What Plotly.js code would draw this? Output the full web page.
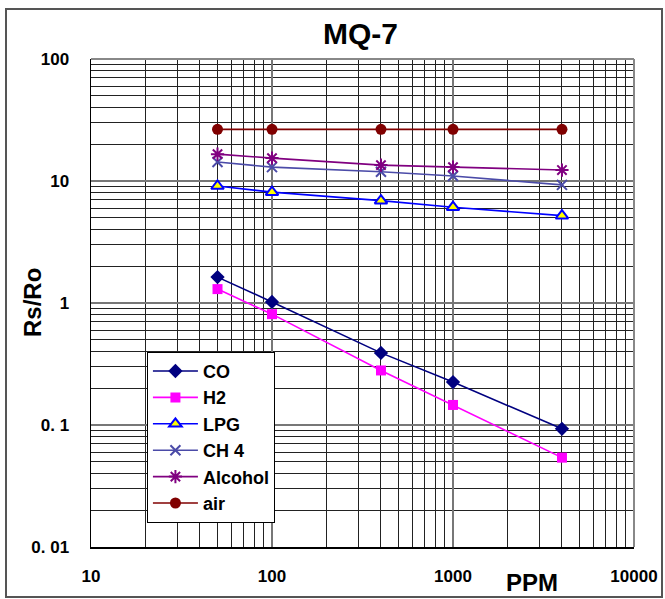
<!DOCTYPE html>
<html><head><meta charset="utf-8">
<script src="https://cdn.plot.ly/plotly-3.0.1.min.js"></script>
<style>html,body{margin:0;padding:0;background:#fff;}#chart{width:665px;height:599px;}</style>
</head><body><div id="chart"></div>
<script>
const ppm = [50, 100, 400, 1000, 4000];
const co = [1.63, 1.02, 0.39, 0.225, 0.093];
const h2 = [1.3, 0.81, 0.28, 0.146, 0.054];
const lpg = [9.1, 8.1, 6.9, 6.1, 5.2];
const ch4 = [14.3, 13.0, 11.9, 11.0, 9.3];
const alcohol = [16.6, 15.4, 13.5, 13.0, 12.3];
const air = [26.5, 26.5, 26.5, 26.5, 26.5];
const seriesNames = ['CO', 'H2', 'LPG', 'CH 4', 'Alcohol', 'air'];
const xTickVals = [10, 100, 1000, 10000];
const xTickText = ['10', '100', '1000', '10000'];
const yTickVals = [0.01, 0.1, 1, 10, 100];
const yTickText = ['0. 01', '0. 1', '1', '10', '100'];

const F = 'Arial, "Liberation Sans", sans-serif';
function tr(name, y, color, marker, lw) {
  return {x: ppm, y: y, name: '<b>' + name + '</b>', type: 'scatter', mode: 'lines+markers',
    line: {color: color, width: lw || 1.6}, marker: marker, legendgroup: name};
}
const data = [
  tr(seriesNames[0], co, '#000080', {symbol: 'diamond', size: 11, color: '#000080'}),
  tr(seriesNames[1], h2, '#FF00FF', {symbol: 'square', size: 10, color: '#FF00FF'}),
  tr(seriesNames[2], lpg, '#0000FF', {symbol: 'triangle-up', size: 11, color: '#FFFF00', line: {color: '#0000FF', width: 2}}),
  tr(seriesNames[3], ch4, '#4B4BA8', {symbol: 'x-thin-open', size: 10, color: '#4B4BA8', line: {color: '#4B4BA8', width: 2}}),
  tr(seriesNames[4], alcohol, '#800080', {symbol: 'asterisk-open', size: 11, color: '#800080', line: {color: '#800080', width: 2}}),
  tr(seriesNames[5], air, '#800000', {symbol: 'circle', size: 11, color: '#800000'})
];
const layout = {
  width: 665, height: 599,
  margin: {l: 91, r: 31, t: 59, b: 52},
  paper_bgcolor: '#fff', plot_bgcolor: '#fff',
  font: {family: F, color: '#000'},
  showlegend: true,
  legend: {x: 0.103, y: 0.4, xanchor: 'left', yanchor: 'top', bgcolor: '#fff',
    bordercolor: '#000', borderwidth: 1, font: {family: F, size: 18, color: '#000', weight: 'bold'},
    traceorder: 'grouped', tracegroupgap: 0, itemwidth: 45},
  xaxis: {type: 'log', range: [1, 4], tickvals: xTickVals, ticktext: xTickText,
    tickfont: {family: F, size: 17, weight: 'bold'}, ticks: '', ticklabelstandoff: 13,
    showgrid: true, gridcolor: '#777', gridwidth: 1.5,
    minor: {dtick: 'D1', showgrid: true, gridcolor: '#222', gridwidth: 1, ticks: ''},
    showline: true, linecolor: '#000', linewidth: 1.5, mirror: false, zeroline: false, fixedrange: true},
  yaxis: {type: 'log', range: [-2, 2], tickvals: yTickVals, ticktext: yTickText,
    tickfont: {family: F, size: 17, weight: 'bold'}, ticks: '', ticklabelstandoff: 17,
    showgrid: true, gridcolor: '#777', gridwidth: 1.5,
    minor: {dtick: 'D1', showgrid: true, gridcolor: '#222', gridwidth: 1, ticks: ''},
    showline: true, linecolor: '#000', linewidth: 1.5, mirror: false, zeroline: false, fixedrange: true},
  annotations: [
    {text: '<b>MQ-7</b>', xref: 'paper', yref: 'paper', x: (360-91)/543, y: 1.0, yshift: 26, xanchor: 'center', yanchor: 'middle', showarrow: false,
      font: {family: F, size: 30}},
    {text: '<b>PPM</b>', xref: 'paper', yref: 'paper', x: (532-91)/543, y: 0, yshift: -35, xanchor: 'center', yanchor: 'middle', showarrow: false,
      font: {family: F, size: 24}},
    {text: '<b>Rs/Ro</b>', xref: 'paper', yref: 'paper', x: 0, xshift: -59, y: (547-303)/488, xanchor: 'center', yanchor: 'middle', textangle: -90, showarrow: false,
      font: {family: F, size: 24}}
  ],
  shapes: [
    {type: 'rect', xref: 'paper', yref: 'paper', x0: (6-91)/543, x1: (662-91)/543, y0: (547-597)/488, y1: (547-9)/488,
      line: {color: '#555', width: 2}, fillcolor: 'rgba(0,0,0,0)', layer: 'below'},
    {type: 'line', xref: 'paper', yref: 'paper', x0: 0, x1: 1, y0: 1, y1: 1, line: {color: '#888', width: 2}},
    {type: 'line', xref: 'paper', yref: 'paper', x0: 1, x1: 1, y0: 0, y1: 1, line: {color: '#888', width: 2}}
  ]
};
Plotly.newPlot('chart', data, layout, {displayModeBar: false, staticPlot: true});
</script></body></html>
